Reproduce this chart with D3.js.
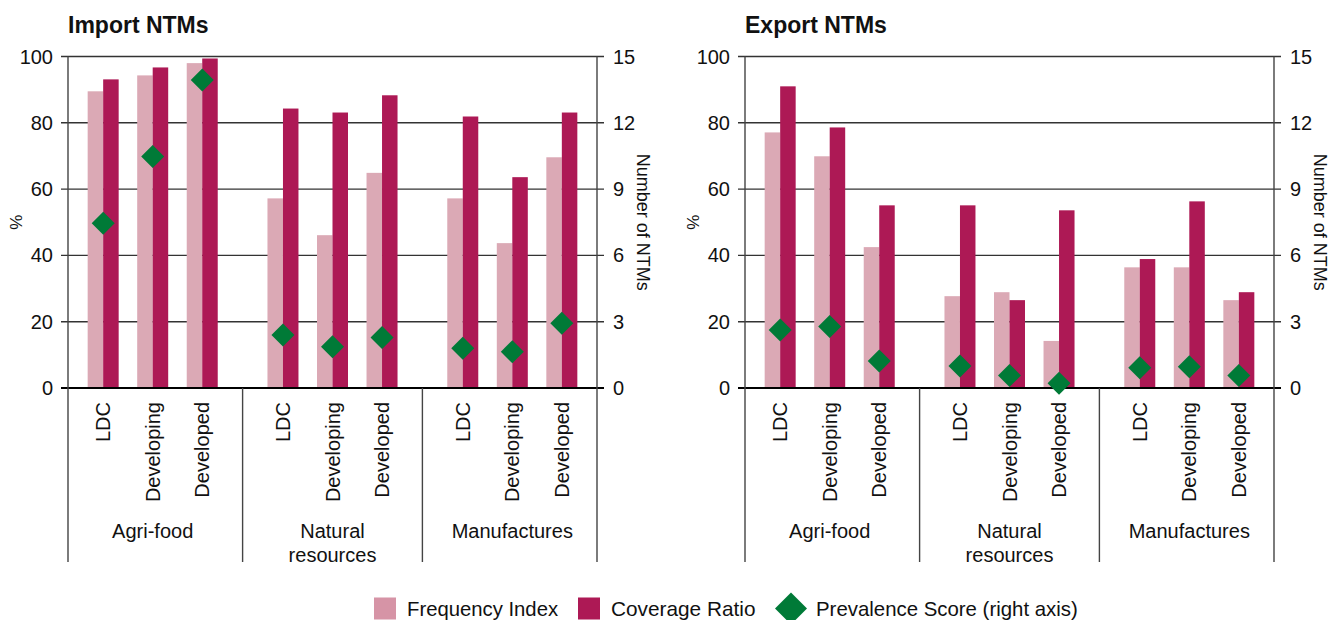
<!DOCTYPE html>
<html>
<head>
<meta charset="utf-8">
<script src="https://cdn.jsdelivr.net/npm/d3@7"></script>
<style>
  body { margin: 0; background: #fff; }
  text { font-family: "Liberation Sans", Arial, sans-serif; fill: #111; }
</style>
</head>
<body>
<div id="chart"></div>
<script>
// categories
const groupLines = [["Agri-food"], ["Natural", "resources"], ["Manufactures"]];
const levels = ["LDC", "Developing", "Developed"];
const pctTicks = [0, 20, 40, 60, 80, 100];
const ntmTicks = [0, 3, 6, 9, 12, 15];

// Import NTMs (order: group x level)
const importFreq = [89.5, 94.3, 98.0, 57.2, 46.1, 64.9, 57.2, 43.7, 69.6];
const importCov  = [93.1, 96.7, 99.4, 84.3, 83.1, 88.3, 81.9, 63.6, 83.1];
const importPrev = [7.46, 10.47, 13.94, 2.40, 1.87, 2.29, 1.80, 1.64, 2.93];

// Export NTMs
const exportFreq = [77.1, 69.9, 42.5, 27.7, 28.9, 14.2, 36.4, 36.4, 26.5];
const exportCov  = [91.0, 78.6, 55.1, 55.1, 26.5, 53.6, 38.9, 56.3, 28.9];
const exportPrev = [2.63, 2.78, 1.22, 1.00, 0.56, 0.21, 0.92, 0.96, 0.56];

const colFreq = "#dba9b5", colCov = "#ad1955", colPrev = "#007a37";

const W = 1330, H = 620;
const plotW = 529, plotTop = 56.5, plotBottom = 388, axisBottom = 562;
const gap = 0.63; // extra slot space between groups
const barW = 15.5, dHalf = 11.5;

const svg = d3.select("#chart").append("svg")
    .attr("width", W)
    .attr("height", H);

function drawPanel(x0, title, freq, cov, prev) {
    const g = svg.append("g").attr("transform", `translate(${x0},0)`);

    const rows = [];
    groupLines.forEach((gl, gi) => {
        levels.forEach((lv, li) => {
            const i = gi * 3 + li;
            rows.push({ group: gi, level: lv, slot: gi * (3 + gap) + li, freq: freq[i], cov: cov[i], prev: prev[i] });
        });
    });

    const x = d3.scaleLinear()
        .domain([-0.71, 2 * (3 + gap) + 2 + 0.71])
        .range([0, plotW]);
    const y = d3.scaleLinear().domain([0, 100]).range([plotBottom, plotTop]);
    const y2 = d3.scaleLinear().domain([0, 15]).range([plotBottom, plotTop]);

    // title
    g.append("text")
        .attr("x", 0).attr("y", 33)
        .style("font-size", "23px").style("font-weight", "bold")
        .text(title);

    // gridlines
    g.selectAll(".grid")
        .data(pctTicks.filter(d => d > 0))
        .enter().append("line")
        .attr("x1", -7).attr("x2", plotW + 7)
        .attr("y1", d => y(d)).attr("y2", d => y(d))
        .attr("stroke", "#333").attr("stroke-width", 1.4);

    // bars
    g.selectAll(".bar-f")
        .data(rows).enter().append("rect")
        .attr("x", d => x(d.slot) - barW)
        .attr("y", d => y(d.freq))
        .attr("width", barW)
        .attr("height", d => y(0) - y(d.freq))
        .attr("fill", colFreq);

    g.selectAll(".bar-c")
        .data(rows).enter().append("rect")
        .attr("x", d => x(d.slot))
        .attr("y", d => y(d.cov))
        .attr("width", barW)
        .attr("height", d => y(0) - y(d.cov))
        .attr("fill", colCov);

    // zero line
    g.append("line")
        .attr("x1", -7).attr("x2", plotW + 7)
        .attr("y1", y(0)).attr("y2", y(0))
        .attr("stroke", "#000").attr("stroke-width", 2.2);

    // axes + group separators
    const seps = [1, 2].map(k => x(k * (3 + gap) - (1 + gap) / 2));
    [0, plotW].forEach(v => {
        g.append("line")
            .attr("x1", v).attr("x2", v)
            .attr("y1", plotTop).attr("y2", axisBottom)
            .attr("stroke", "#444").attr("stroke-width", 1.4);
    });
    seps.forEach(v => {
        g.append("line")
            .attr("x1", v).attr("x2", v)
            .attr("y1", plotBottom).attr("y2", axisBottom)
            .attr("stroke", "#444").attr("stroke-width", 1.4);
    });

    // tick labels
    g.selectAll(".tl")
        .data(pctTicks).enter().append("text")
        .attr("x", -15).attr("y", d => y(d))
        .attr("dy", "0.35em")
        .attr("text-anchor", "end")
        .style("font-size", "20px")
        .text(d => d);

    g.selectAll(".tr")
        .data(ntmTicks).enter().append("text")
        .attr("x", plotW + 16).attr("y", d => y2(d))
        .attr("dy", "0.35em")
        .style("font-size", "20px")
        .text(d => d);

    // axis titles
    g.append("text")
        .attr("transform", `translate(-52,${(plotTop + plotBottom) / 2}) rotate(-90)`)
        .attr("text-anchor", "middle").attr("dy", "0.35em")
        .style("font-size", "17px")
        .text("%");

    g.append("text")
        .attr("transform", `translate(${plotW + 46},${(plotTop + plotBottom) / 2}) rotate(90)`)
        .attr("text-anchor", "middle").attr("dy", "0.35em")
        .style("font-size", "18px")
        .text("Number of NTMs");

    // category labels
    g.selectAll(".cat")
        .data(rows).enter().append("text")
        .attr("transform", d => `translate(${x(d.slot)},402) rotate(-90)`)
        .attr("text-anchor", "end")
        .attr("dy", "0.35em")
        .style("font-size", "20px")
        .text(d => d.level);

    groupLines.forEach((gl, gi) => {
        const cx = x(gi * (3 + gap) + 1);
        gl.forEach((line, k) => {
            g.append("text")
                .attr("x", cx).attr("y", 538 + k * 24)
                .attr("text-anchor", "middle")
                .style("font-size", "20px")
                .text(line);
        });
    });

    // prevalence diamonds
    g.selectAll(".prev")
        .data(rows).enter().append("path")
        .attr("d", d => {
            const cx = x(d.slot), cy = y2(d.prev);
            return `M${cx},${cy - dHalf}L${cx + dHalf},${cy}L${cx},${cy + dHalf}L${cx - dHalf},${cy}Z`;
        })
        .attr("fill", colPrev);
}

drawPanel(68, "Import NTMs", importFreq, importCov, importPrev);
drawPanel(745, "Export NTMs", exportFreq, exportCov, exportPrev);

// legend
const legend = svg.append("g");
const ly = 608.5;
legend.append("rect").attr("x", 374).attr("y", ly - 11).attr("width", 22).attr("height", 22).attr("fill", "#d694a6");
legend.append("text").attr("x", 407).attr("y", ly).attr("dy", "0.35em").style("font-size", "20.3px").text("Frequency Index");
legend.append("rect").attr("x", 578).attr("y", ly - 11).attr("width", 22).attr("height", 22).attr("fill", colCov);
legend.append("text").attr("x", 611).attr("y", ly).attr("dy", "0.35em").style("font-size", "20.8px").text("Coverage Ratio");
legend.append("path").attr("d", `M791,${ly - 16}L807,${ly}L791,${ly + 16}L775,${ly}Z`).attr("fill", colPrev);
legend.append("text").attr("x", 816).attr("y", ly).attr("dy", "0.35em").style("font-size", "20.4px").text("Prevalence Score (right axis)");
</script>
</body>
</html>
